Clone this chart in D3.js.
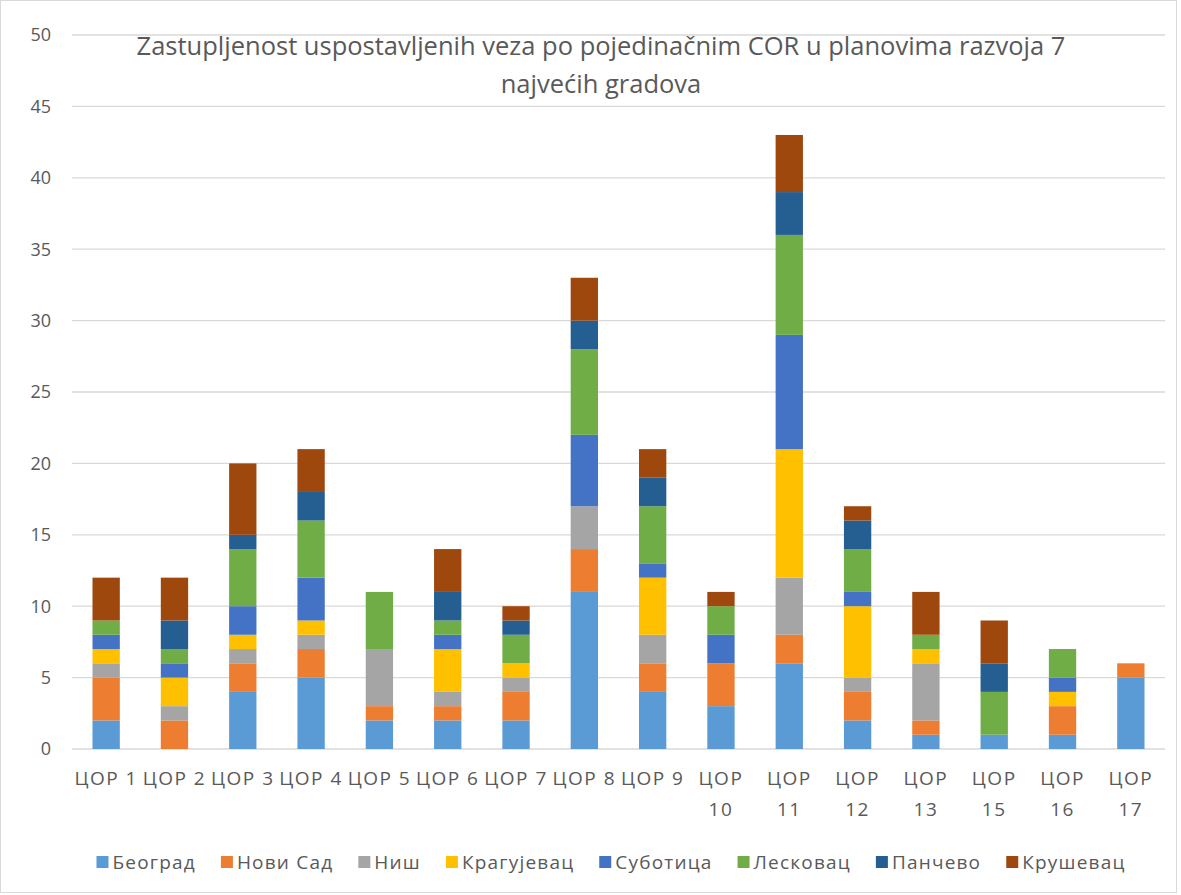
<!DOCTYPE html>
<html>
<head>
<meta charset="utf-8">
<script src="https://cdn.jsdelivr.net/npm/d3@7"></script>
<style>
  body { margin: 0; background: #fff; }
  text { font-family: "Open Sans", sans-serif; fill: #595959; }
  text.cyr { letter-spacing: 1.5px; }
</style>
</head>
<body>
<div id="chart"></div>
<script>
// categories
var categories = ["ЦОР 1","ЦОР 2","ЦОР 3","ЦОР 4","ЦОР 5","ЦОР 6","ЦОР 7","ЦОР 8","ЦОР 9","ЦОР 10","ЦОР 11","ЦОР 12","ЦОР 13","ЦОР 15","ЦОР 16","ЦОР 17"];
var cities = ["Београд","Нови Сад","Ниш","Крагујевац","Суботица","Лесковац","Панчево","Крушевац"];
var colors = ["#5B9BD5","#ED7D31","#A5A5A5","#FFC000","#4472C4","#70AD47","#255E91","#9E480E"];

// one array per city, values by category
var beograd    = [2,0,4,5,2,2,2,11,4,3,6,2,1,1,1,5];
var noviSad    = [3,2,2,2,1,1,2,3,2,3,2,2,1,0,2,1];
var nis        = [1,1,1,1,4,1,1,3,2,0,4,1,4,0,0,0];
var kragujevac = [1,2,1,1,0,3,1,0,4,0,9,5,1,0,1,0];
var subotica   = [1,1,2,3,0,1,0,5,1,2,8,1,0,0,1,0];
var leskovac   = [1,1,4,4,4,1,2,6,4,2,7,3,1,3,2,0];
var pancevo    = [0,2,1,2,0,2,1,2,2,0,3,2,0,2,0,0];
var krusevac   = [3,3,5,3,0,3,1,3,2,1,4,1,3,3,0,0];
var yTicks = [0,5,10,15,20,25,30,35,40,45,50];

var titleLines = ["Zastupljenost uspostavljenih veza po pojedinačnim COR u planovima razvoja 7", "najvećih gradova"];

var series = [beograd, noviSad, nis, kragujevac, subotica, leskovac, pancevo, krusevac];

var width = 1181, height = 895;
var margin = {left: 72, right: 16, top: 35, bottom: 146};

var rows = categories.map(function(c, i) {
  var r = {cat: c};
  cities.forEach(function(city, j) { r[city] = series[j][i]; });
  return r;
});
var stacked = d3.stack().keys(cities)(rows);

var svg = d3.select('#chart').append('svg').attr('width', width).attr('height', height);

svg.append('rect').attr('x', 0.5).attr('y', 0.5).attr('width', width - 5).attr('height', height - 3)
  .attr('fill', '#fff').attr('stroke', '#d9d9d9');

var x = d3.scaleBand().domain(categories).range([margin.left, width - margin.right]).paddingInner(0.6).paddingOuter(0.3);
var y = d3.scaleLinear().domain([0, 50]).range([height - margin.bottom, margin.top]);

// gridlines
svg.append('g').selectAll('line').data(yTicks).join('line')
  .attr('x1', margin.left).attr('x2', width - margin.right)
  .attr('y1', d => y(d)).attr('y2', d => y(d))
  .attr('stroke', '#d9d9d9').attr('stroke-width', 1.3);

// y axis labels
svg.append('g').selectAll('text').data(yTicks).join('text')
  .attr('x', 51).attr('y', d => y(d)).attr('dy', '0.35em')
  .attr('text-anchor', 'end').style('font-size', '18px')
  .text(d => d);

// bars
svg.append('g').selectAll('g').data(stacked).join('g')
  .attr('fill', (d, i) => colors[i])
  .selectAll('rect').data(d => d).join('rect')
  .attr('x', d => x(d.data.cat))
  .attr('width', x.bandwidth())
  .attr('y', d => y(d[1]))
  .attr('height', d => y(d[0]) - y(d[1]));

// category labels (long ones wrap onto two lines)
var catG = svg.append('g').selectAll('text').data(categories).join('text')
  .attr('class', 'cyr')
  .attr('x', d => x(d) + x.bandwidth() / 2)
  .attr('y', 785)
  .attr('text-anchor', 'middle').style('font-size', '19px');
catG.each(function(d) {
  var parts = d.split(' ');
  var t = d3.select(this);
  if (+parts[1] >= 10) {
    t.append('tspan').attr('x', t.attr('x')).text(parts[0]);
    t.append('tspan').attr('x', t.attr('x')).attr('dy', '1.65em').text(parts[1]);
  } else {
    t.text(d);
  }
});

// title
svg.append('text').attr('x', 601).attr('y', 55).attr('dy', '0.35em')
  .attr('text-anchor', 'middle').style('font-size', '25.5px')
  .selectAll('tspan').data(titleLines).join('tspan')
  .attr('x', 601).attr('dy', (d, i) => i ? '1.5em' : 0)
  .text(d => d);

// legend, centred under the plot
var gap = 25;
var legend = svg.append('g');
var lx = 0;
cities.forEach(function(c, i) {
  var g = legend.append('g').attr('transform', 'translate(' + lx + ',862)');
  g.append('rect').attr('x', 0).attr('y', -6).attr('width', 12).attr('height', 12).attr('fill', colors[i]);
  var t = g.append('text').attr('class', 'cyr').attr('x', 16).attr('dy', '0.35em')
    .style('font-size', '19px').style('letter-spacing', '1.2px').text(c);
  lx += 16 + t.node().getComputedTextLength() + gap;
});
legend.attr('transform', 'translate(' + (611 - (lx - gap) / 2) + ',0)');
</script>
</body>
</html>
